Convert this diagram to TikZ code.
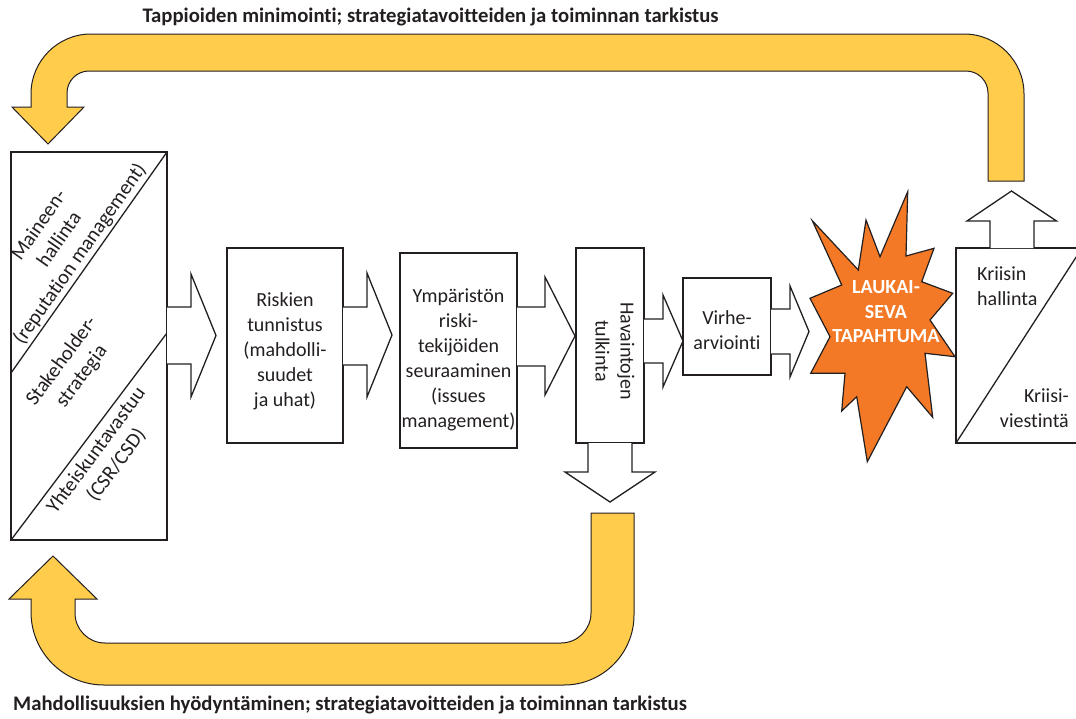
\documentclass[tikz,border=0pt]{standalone}
\usepackage{fontspec}
\setmainfont{Carlito}[Ligatures=NoCommon]
\definecolor{linec}{RGB}{35,31,32}
\definecolor{yellowc}{RGB}{255,205,75}
\definecolor{orangec}{RGB}{243,121,38}
\definecolor{textc}{RGB}{35,31,32}
\begin{document}
\begin{tikzpicture}[x=1pt,y=-1pt,
  procbox/.style={draw=linec, line width=1.3pt, fill=white, inner sep=0pt, outer sep=0pt},
  blk/.style={draw=linec, line width=1.3pt, fill=white, line join=miter},
  yel/.style={draw=linec, line width=1pt, fill=yellowc, line join=miter},
  lbl/.style={font=\fontsize{20}{25}\selectfont, text=textc, align=center, inner sep=0pt},
  captxt/.style={font=\fontsize{20.7}{24}\selectfont\bfseries, text=textc, inner sep=0pt},
  burstshape/.style={draw=linec, line width=1.2pt, fill=orangec, line join=miter}]
\useasboundingbox (0,0) rectangle (1076,718);
\clip (0,0) rectangle (1076,718);

% captions
\node[captxt] (toptxt) at (430.5,17) {Tappioiden minimointi; strategiatavoitteiden ja toiminnan tarkistus};
\node[captxt] (bottxt) at (350,705) {Mahdollisuuksien hyödyntäminen; strategiatavoitteiden ja toiminnan tarkistus};

% top yellow arrow
\draw[yel] (48,144) -- (84,107) -- (67,107) -- (67,93)
  .. controls (67,80.85) and (76.85,71) .. (89,71) -- (966,71)
  .. controls (978.15,71) and (988,80.85) .. (988,93) -- (988,181) -- (1024,181) -- (1024,94)
  .. controls (1024,60.86) and (997.14,34) .. (964,34) -- (91,34)
  .. controls (57.86,34) and (31,60.86) .. (31,94) -- (31,107) -- (12,107) -- cycle;

% bottom yellow arrow
\draw[yel] (53,556) -- (97,599) -- (75,599) -- (75,613)
  .. controls (75,629.57) and (88.43,643) .. (105,643) -- (561,643)
  .. controls (577.57,643) and (591,629.43) .. (591,613) -- (591,513) -- (634,513) -- (634,615)
  .. controls (634,653.66) and (602.66,685) .. (564,685) -- (104,685)
  .. controls (63.68,685) and (31,652.32) .. (31,612) -- (31,599) -- (9,599) -- cycle;

% left box
\node[procbox, minimum width=156, minimum height=388] (lbox) at (89,346) {};
\coordinate (d1) at (11,373);
\coordinate (d2) at (167,333);
\draw[linec, line width=1.3pt] (lbox.north east) -- (d1);
\draw[linec, line width=1.3pt] (d2) -- (lbox.south west);
\node[lbl, rotate=55, font=\fontsize{20.5}{25}\selectfont] (mh) at (60,240) {Maineen-\\hallinta\\(reputation management)};
\node[lbl, rotate=53.5, font=\fontsize{20.5}{25}\selectfont] (sh) at (72,369) {Stakeholder-\\strategia};
\node[lbl, rotate=53.5, font=\fontsize{20.5}{25}\selectfont] (yv) at (106.5,458) {Yhteiskuntavastuu\\(CSR/CSD)};

% process boxes
\node[procbox, minimum width=116, minimum height=195] (risk) at (285,345.5) {};
\node[lbl] (risktxt) at (285,351.5) {Riskien\\tunnistus\\(mahdolli-\\suudet\\ja uhat)};
\node[procbox, minimum width=117, minimum height=195] (ymp) at (458.5,350.5) {};
\node[lbl] (ymptxt) at (458.5,359.5) {Ympäristön\\riski-\\tekijöiden\\seuraaminen\\(issues\\management)};
\node[procbox, minimum width=68, minimum height=195] (hav) at (610,345.5) {};
\node[lbl, rotate=-90] (havtxt) at (615,351) {Havaintojen\\tulkinta};
\node[procbox, minimum width=88, minimum height=97] (vir) at (727,326.5) {};
\node[lbl] (virtxt) at (727,330) {Virhe-\\arviointi};
\node[procbox, minimum width=126, minimum height=195] (kr) at (1019,345.5) {};
\draw[linec, line width=1.3pt] (kr.south west) -- (kr.north east);
\node[lbl, align=left, anchor=west] (krh) at (977,286) {Kriisin\\hallinta};
\node[lbl, align=right, anchor=east] (krv) at (1069,408) {Kriisi-\\viestintä};

% block arrows
\draw[blk] (167,307) -- (191,307) -- (191,274) -- (216,335.5) -- (191,397) -- (191,364) -- (167,364);
\draw[blk] (343,307) -- (367,307) -- (367,273) -- (392,335) -- (367,397) -- (367,365) -- (343,365);
\draw[blk] (517,307) -- (545,307) -- (545,277) -- (575,336) -- (545,395) -- (545,366) -- (517,366);
\draw[blk] (644,319) -- (663,319) -- (663,295) -- (683,341) -- (663,387) -- (663,363) -- (644,363);
\draw[blk] (771,309) -- (790,309) -- (790,286) -- (809,331.5) -- (790,377) -- (790,354) -- (771,354);
\draw[blk] (588,443) -- (588,472) -- (565,472) -- (610,502) -- (655,472) -- (632,472) -- (632,443);
\draw[blk] (990,248) -- (990,221) -- (967,221) -- (1011.5,191) -- (1056.5,221) -- (1034,221) -- (1034,248);

% burst
\draw[burstshape] (907.7,191.7) -- (906,256) -- (934,248.3) -- (921.7,281.7) -- (952.7,293.3)
  -- (930,320) -- (955,356.7) -- (925,353.3) -- (932.7,417.3) -- (906.7,386.7)
  -- (867.3,461.7) -- (856.7,396.7) -- (841.7,411) -- (845,373.3) -- (810.7,373.3)
  -- (830,336.7) -- (810,298.3) -- (841.7,285) -- (812.3,220.7) -- (858.3,270)
  -- (866,220) -- (880,256.7) -- cycle;
\node[lbl, text=white, font=\fontsize{20}{24.5}\selectfont\bfseries] (burstxt) at (886,312) {LAUKAI-\\SEVA\\TAPAHTUMA};
\end{tikzpicture}
\end{document}
